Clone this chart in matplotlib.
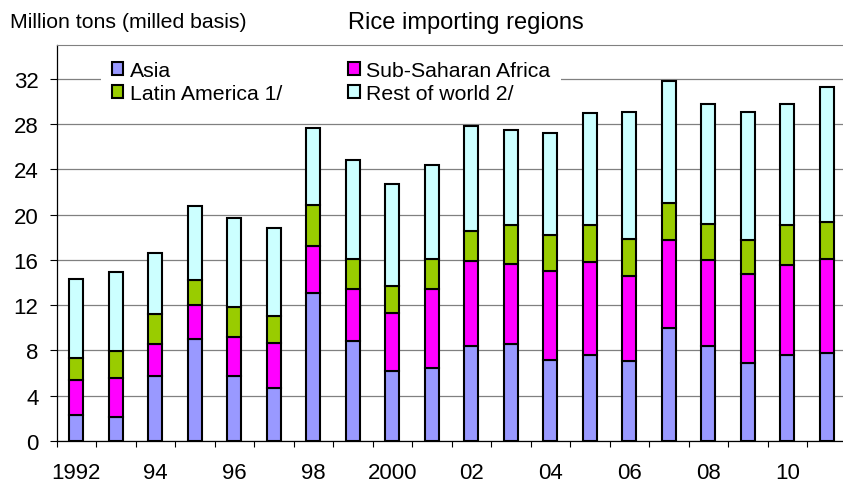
import numpy as np
import matplotlib
matplotlib.use('Agg')
import matplotlib.pyplot as plt

# -----------------------------------------------------
# data (million tons, milled basis)
# -----------------------------------------------------
years = list(range(1992, 2012))
year_labels = ["1992", "", "94", "", "96", "", "98", "", "2000", "",
               "02", "", "04", "", "06", "", "08", "", "10", ""]

asia = [2.26, 2.15, 5.74, 9.03, 5.74, 4.68, 13.09, 8.85, 6.18, 6.41,
        8.38, 8.53, 7.20, 7.56, 7.06, 10.00, 8.44, 6.88, 7.59, 7.74]
sub_saharan = [3.09, 3.41, 2.79, 2.97, 3.46, 3.97, 4.15, 4.62, 5.14, 7.04,
               7.50, 7.09, 7.80, 8.23, 7.50, 7.79, 7.56, 7.88, 7.94, 8.35]
latin_america = [1.97, 2.38, 2.71, 2.20, 2.68, 2.41, 3.64, 2.62, 2.36, 2.65,
                 2.65, 3.48, 3.24, 3.30, 3.32, 3.24, 3.20, 3.03, 3.59, 3.29]
rest_of_world = [7.03, 7.00, 5.35, 6.60, 7.82, 7.76, 6.77, 8.71, 9.06, 8.25,
                 9.27, 8.43, 9.00, 9.88, 11.21, 10.79, 10.56, 11.30, 10.70, 11.88]

series = [
    ("Asia", asia, "#9999FF"),
    ("Sub-Saharan Africa", sub_saharan, "#FF00FF"),
    ("Latin America 1/", latin_america, "#99CC00"),
    ("Rest of world 2/", rest_of_world, "#CCFFFF"),
]

plt.rcParams['font.family'] = ['Liberation Sans', 'DejaVu Sans']

# -----------------------------------------------------
# figure
# -----------------------------------------------------
W, H = 843, 485
fig = plt.figure(figsize=(W / 100, H / 100), dpi=100)
ax = fig.add_axes([56.5 / W, 1 - 442 / H, 790 / W, (442 - 46) / H])

x = np.arange(len(years))
bottom = np.zeros(len(years))
handles = {}
for name, vals, color in series:
    b = ax.bar(x, vals, width=0.36, bottom=bottom, color=color,
               edgecolor="black", linewidth=1.5, label=name, zorder=3)
    handles[name] = b
    bottom += np.array(vals)

ax.set_xlim(-0.5, len(years) - 0.5)
ax.set_ylim(0, 35)
ax.set_yticks(np.arange(0, 33, 4))
ax.tick_params(axis='y', labelsize=16, length=5, width=0.8, pad=8)

ax.set_xticks(x)
ax.set_xticklabels(year_labels)
ax.set_xticks(np.arange(-0.5, len(years), 1), minor=True)
ax.tick_params(axis='x', which='major', length=0, labelsize=16, pad=15)
ax.tick_params(axis='x', which='minor', length=4.5, width=0.8)

ax.grid(axis='y', color="#808080", linewidth=0.9, zorder=0)
ax.set_axisbelow(True)

ax.spines['right'].set_visible(False)
ax.spines['top'].set_color("#808080")
ax.spines['left'].set_linewidth(0.9)
ax.spines['bottom'].set_linewidth(0.9)

order = ["Asia", "Latin America 1/", "Sub-Saharan Africa", "Rest of world 2/"]
leg = ax.legend([handles[n] for n in order], order, ncol=2,
                loc='upper left', bbox_to_anchor=(101 / W, 1 - 51 / H),
                bbox_transform=fig.transFigure, borderaxespad=0,
                fontsize=15.3, frameon=True, fancybox=False, framealpha=1,
                edgecolor="none", facecolor="white", borderpad=0.5,
                handlelength=0.55, handleheight=0.55, handletextpad=0.3,
                columnspacing=3.1, labelspacing=0.2)
for p in leg.get_patches():
    p.set_linewidth(1.5)

fig.text(10 / W, 1 - 22 / H, "Million tons (milled basis)", fontsize=15.3,
         va='center', ha='left')
fig.text(348 / W, 1 - 23 / H, "Rice importing regions", fontsize=17,
         va='center', ha='left')

fig.savefig("out.png", dpi=100)
